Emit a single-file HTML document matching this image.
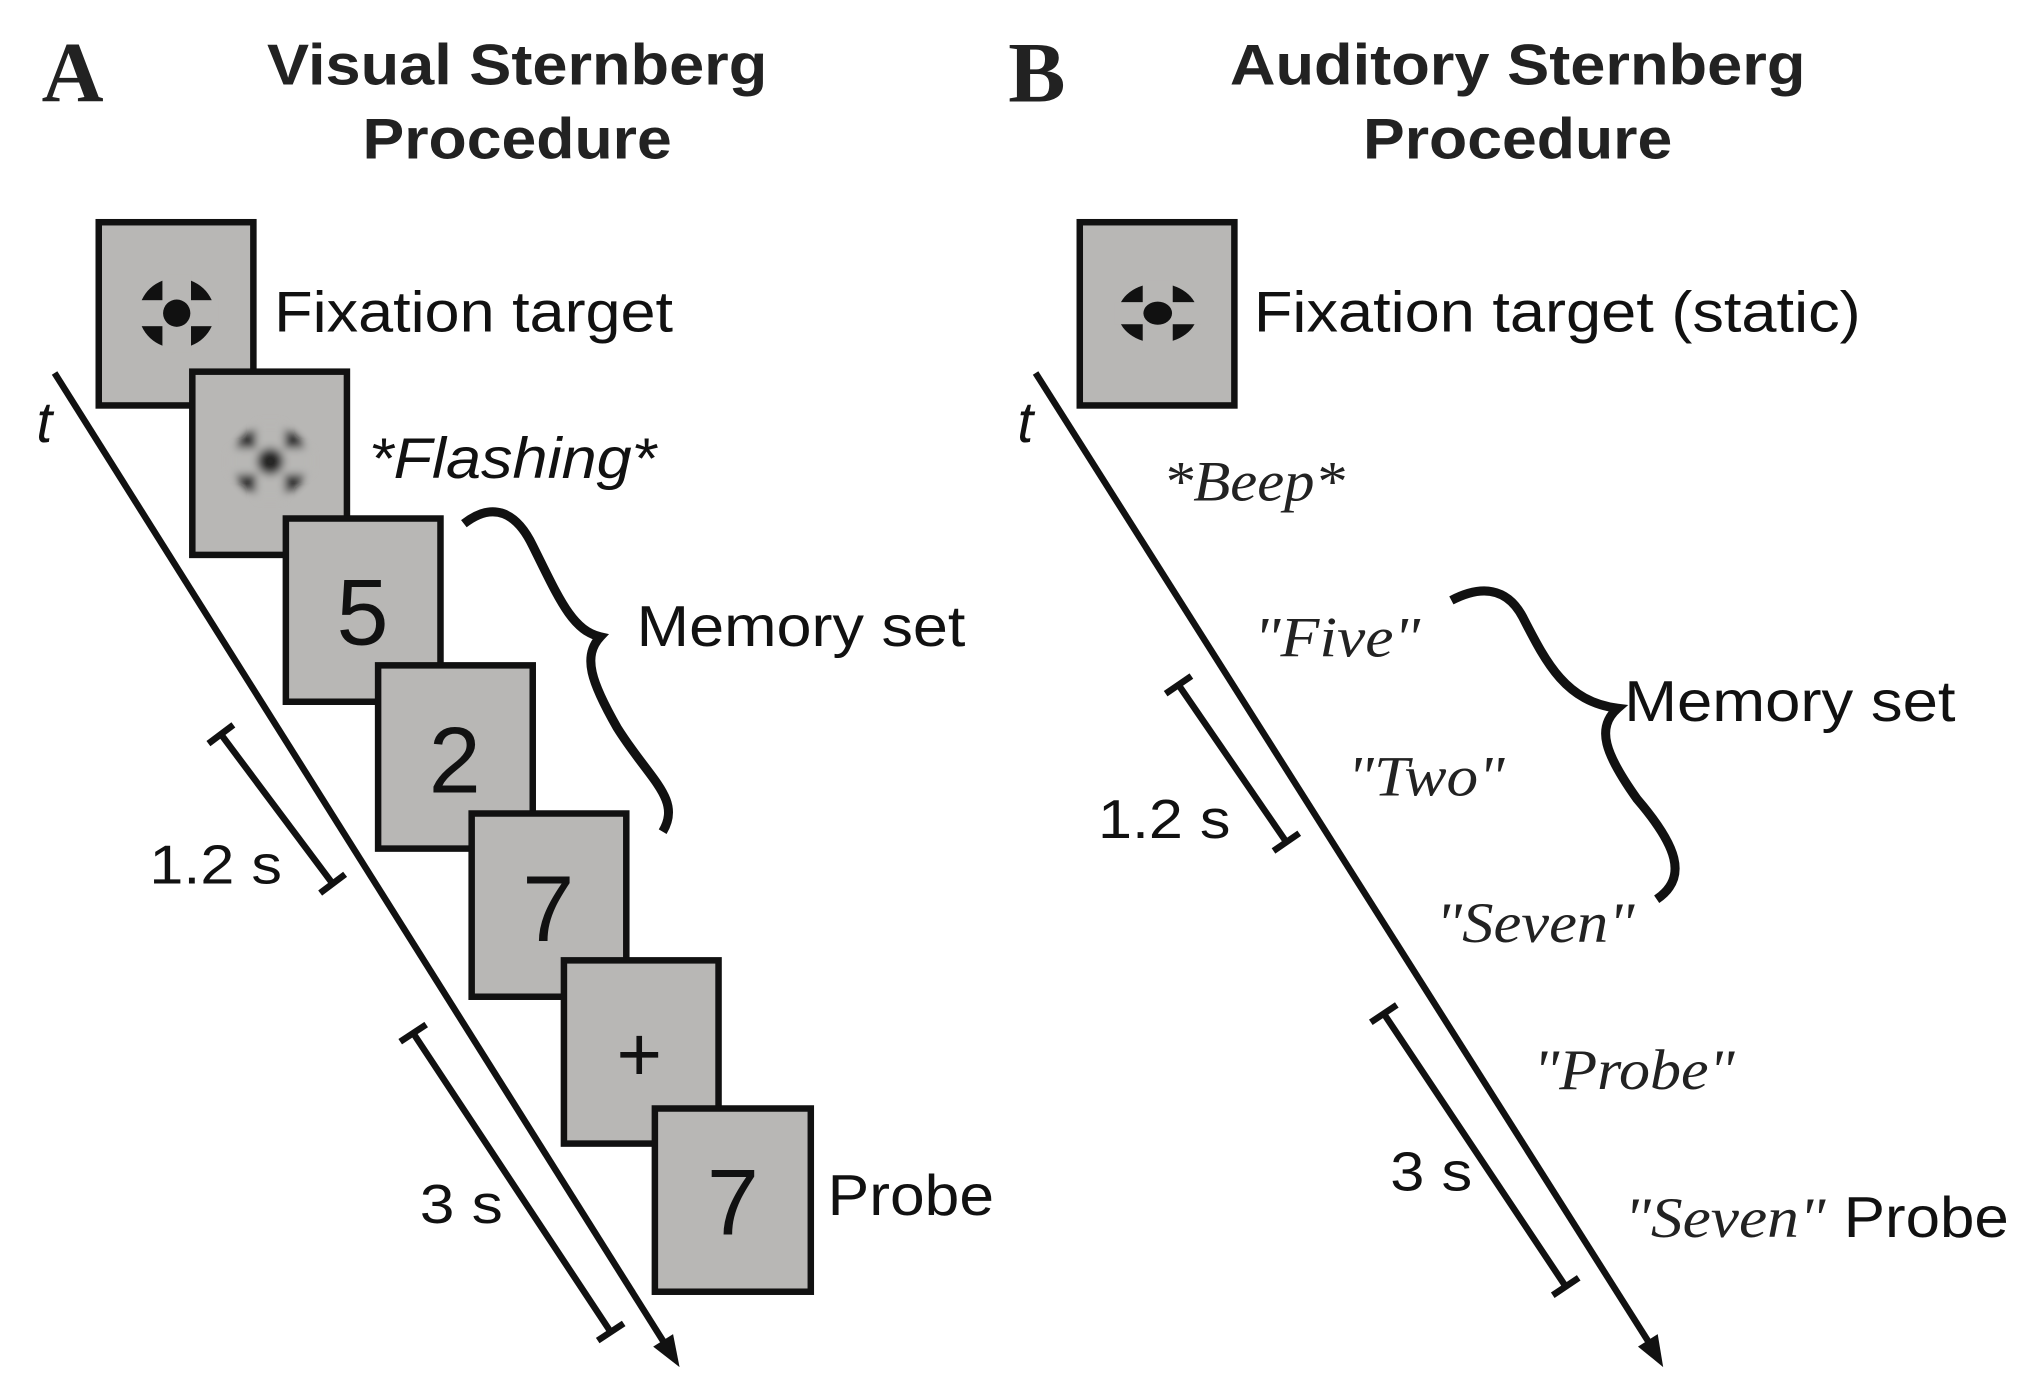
<!DOCTYPE html>
<html><head><meta charset="utf-8"><style>
html,body{margin:0;padding:0;background:#fff}
svg{display:block}
.s{font-family:"Liberation Sans",sans-serif;fill:#111}
.b{font-family:"Liberation Sans",sans-serif;font-weight:bold;fill:#222}
.r{font-family:"Liberation Serif",serif;font-weight:bold;fill:#222}
.i{font-family:"Liberation Serif",serif;font-style:italic;fill:#222}
.bx{fill:#b8b7b5;stroke:#111;stroke-width:5}
</style></head><body>
<svg width="2027" height="1384" viewBox="0 0 1560 1065" preserveAspectRatio="none" xmlns="http://www.w3.org/2000/svg">
<defs>
<filter id="bl" x="-30%" y="-30%" width="160%" height="160%"><feGaussianBlur stdDeviation="3"/></filter>
<g id="fix">
<ellipse rx="29" ry="27" fill="#111"/>
<rect x="-32" y="-10" width="64" height="20" fill="#b8b7b5"/>
<rect x="-11" y="-30" width="22" height="60" fill="#b8b7b5"/>
<circle r="10.5" fill="#111"/>
</g>
</defs>

<!-- Panel A -->
<text class="r" x="32" y="78" font-size="66">A</text>
<text class="b" x="398" y="65" font-size="44" text-anchor="middle" textLength="385" lengthAdjust="spacingAndGlyphs">Visual Sternberg</text>
<text class="b" x="398" y="122" font-size="44" text-anchor="middle" textLength="238" lengthAdjust="spacingAndGlyphs">Procedure</text>

<rect class="bx" x="76" y="171" width="119" height="141"/>
<use href="#fix" x="136" y="241"/>
<rect class="bx" x="148" y="286" width="119" height="141"/>
<use href="#fix" x="208" y="355" filter="url(#bl)" opacity="0.85"/>
<rect class="bx" x="220" y="399" width="119" height="141"/>
<text class="s" x="279" y="496" font-size="72" text-anchor="middle">5</text>
<rect class="bx" x="291" y="512" width="119" height="141"/>
<text class="s" x="350" y="610" font-size="72" text-anchor="middle">2</text>
<rect class="bx" x="363" y="626" width="119" height="141"/>
<text class="s" x="422" y="724" font-size="72" text-anchor="middle">7</text>
<rect class="bx" x="434" y="739" width="119" height="141"/>
<text class="s" x="492" y="832" font-size="60" text-anchor="middle">+</text>
<rect class="bx" x="504" y="853" width="120" height="141"/>
<text class="s" x="564" y="950" font-size="72" text-anchor="middle">7</text>

<text class="s" x="211" y="255" font-size="44" textLength="307" lengthAdjust="spacingAndGlyphs">Fixation target</text>
<text class="s" x="284" y="368" font-size="44" font-style="italic" textLength="221" lengthAdjust="spacingAndGlyphs">*Flashing*</text>
<text class="s" x="490" y="497" font-size="44" textLength="253" lengthAdjust="spacingAndGlyphs">Memory set</text>
<text class="s" x="637" y="935" font-size="44" textLength="128" lengthAdjust="spacingAndGlyphs">Probe</text>
<text class="s" x="28" y="340" font-size="44" font-style="italic">t</text>
<text class="s" x="115" y="680" font-size="42" textLength="102" lengthAdjust="spacingAndGlyphs">1.2 s</text>
<text class="s" x="323" y="941" font-size="42" textLength="64" lengthAdjust="spacingAndGlyphs">3 s</text>

<line x1="42" y1="287" x2="511" y2="1033" stroke="#111" stroke-width="5"/>
<polygon points="523,1052 518,1026.6 502.7,1036.2" fill="#111"/>

<g stroke="#111" stroke-width="5" fill="none">
<line x1="170" y1="565" x2="256" y2="680"/>
<line x1="160.4" y1="572.2" x2="179.6" y2="557.8"/>
<line x1="246.4" y1="687.2" x2="265.6" y2="672.8"/>
<line x1="318" y1="795" x2="470" y2="1025"/>
<line x1="308" y1="801.6" x2="328" y2="788.4"/>
<line x1="460" y1="1031.6" x2="480" y2="1018.4"/>
</g>
<path d="M357,403 C380,385 398,395 410,420 C430,460 440,485 462,490 C448,505 455,525 475,560 C500,600 525,615 510,640" stroke="#111" stroke-width="7" fill="none" stroke-linecap="butt"/>

<!-- Panel B -->
<text class="r" x="776" y="78" font-size="66">B</text>
<text class="b" x="1168" y="65" font-size="44" text-anchor="middle" textLength="443" lengthAdjust="spacingAndGlyphs">Auditory Sternberg</text>
<text class="b" x="1168" y="122" font-size="44" text-anchor="middle" textLength="238" lengthAdjust="spacingAndGlyphs">Procedure</text>

<rect class="bx" x="831" y="171" width="119" height="141"/>
<use href="#fix" x="891" y="241" transform="translate(891 241) scale(1.05 0.85) translate(-891 -241)"/>
<text class="s" x="965" y="255" font-size="44" textLength="467" lengthAdjust="spacingAndGlyphs">Fixation target (static)</text>
<text class="s" x="783" y="340" font-size="44" font-style="italic">t</text>

<line x1="797" y1="287" x2="1269" y2="1033" stroke="#111" stroke-width="5"/>
<polygon points="1280,1052 1275.8,1026.6 1260.6,1036.2" fill="#111"/>

<g stroke="#111" stroke-width="5" fill="none">
<line x1="907" y1="527" x2="990" y2="648"/>
<line x1="897.1" y1="533.8" x2="916.9" y2="520.2"/>
<line x1="980.1" y1="654.8" x2="999.9" y2="641.2"/>
<line x1="1065" y1="780" x2="1205" y2="990"/>
<line x1="1055" y1="786.7" x2="1075" y2="773.3"/>
<line x1="1195" y1="996.7" x2="1215" y2="983.3"/>
</g>
<path d="M1117,462 C1140,450 1160,452 1172,475 C1190,510 1205,540 1245,545 C1228,560 1235,580 1260,615 C1290,650 1300,675 1275,692" stroke="#111" stroke-width="7" fill="none"/>

<text class="i" x="895" y="385" font-size="44" textLength="140" lengthAdjust="spacingAndGlyphs">*Beep*</text>
<text class="i" x="965" y="505" font-size="44" textLength="128" lengthAdjust="spacingAndGlyphs">"Five"</text>
<text class="i" x="1037" y="612" font-size="44" textLength="121" lengthAdjust="spacingAndGlyphs">"Two"</text>
<text class="i" x="1105" y="725" font-size="44" textLength="153" lengthAdjust="spacingAndGlyphs">"Seven"</text>
<text class="i" x="1180" y="838" font-size="44" textLength="155" lengthAdjust="spacingAndGlyphs">"Probe"</text>
<text class="i" x="1250" y="952" font-size="44" textLength="155" lengthAdjust="spacingAndGlyphs">"Seven"</text>
<text class="s" x="1419" y="952" font-size="44" textLength="127" lengthAdjust="spacingAndGlyphs">Probe</text>
<text class="s" x="1250" y="555" font-size="44" textLength="255" lengthAdjust="spacingAndGlyphs">Memory set</text>
<text class="s" x="845" y="645" font-size="42" textLength="102" lengthAdjust="spacingAndGlyphs">1.2 s</text>
<text class="s" x="1070" y="916" font-size="42" textLength="63" lengthAdjust="spacingAndGlyphs">3 s</text>
</svg>
</body></html>
